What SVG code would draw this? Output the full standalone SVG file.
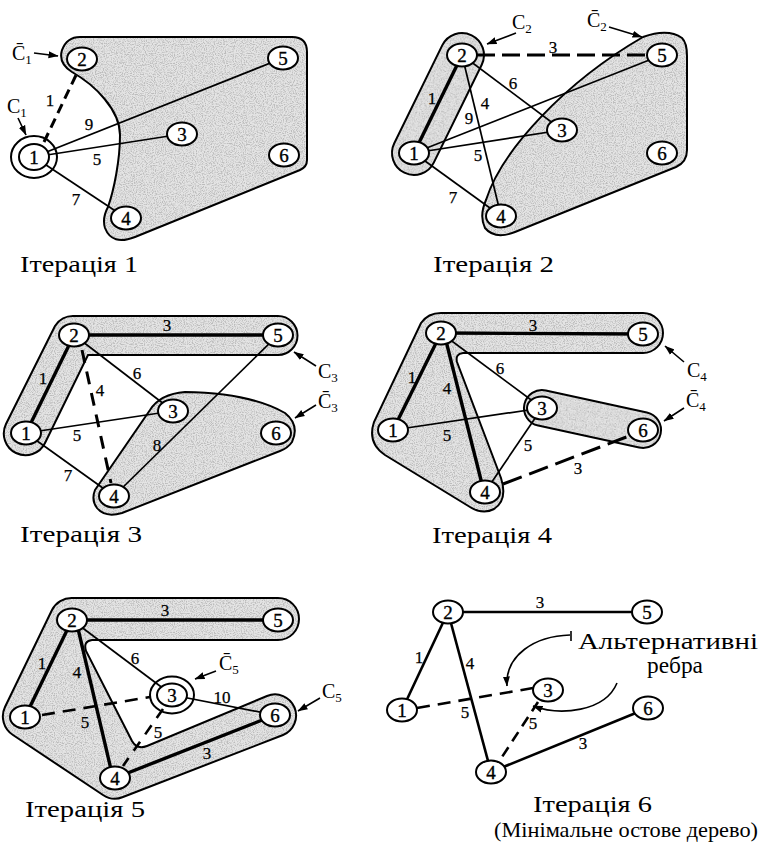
<svg xmlns="http://www.w3.org/2000/svg" width="764" height="848" viewBox="0 0 764 848">
<defs>
<style>
text{font-family:"Liberation Serif","Times New Roman",serif;fill:#000}
.nd ellipse{fill:#fff;stroke:#000;stroke-width:2}
.nd ellipse.ring{fill:none}
.nd text{font-size:19px;text-anchor:middle;stroke:#000;stroke-width:0.35}
.e line,.e path{stroke:#000;fill:none}
.e .thin{stroke-width:1.7}
.e .thick{stroke-width:3.4}
.e .thick2{stroke-width:2.6}
.e .dash{stroke-width:3}
.e .dash2{stroke-width:2.6}
.lb text{font-size:17px;text-anchor:middle;stroke:#000;stroke-width:0.25}
.shade{fill:#e4e4e4;stroke:none}
.rim{fill:none;stroke:#000;stroke-width:2}
.cl text{font-size:20px}
.cl tspan{font-size:13px}
.cl line,.cl path{stroke:#000;stroke-width:1.6;fill:none;marker-end:url(#ah)}
.ttl{font-size:24px}
.alt{font-size:23px}
</style>
<filter id="grain" x="-2%" y="-2%" width="104%" height="104%">
<feTurbulence type="fractalNoise" baseFrequency="0.9" numOctaves="2" seed="7" result="t"/>
<feColorMatrix in="t" type="matrix" values="0 0 0 0 0.5 0 0 0 0 0.5 0 0 0 0 0.5 0 0 0 3.2 -1.35" result="d"/>
<feComposite in="d" in2="SourceGraphic" operator="in" result="d2"/>
<feMerge><feMergeNode in="SourceGraphic"/><feMergeNode in="d2"/></feMerge>
</filter>
<marker id="ah" viewBox="0 0 10 8" refX="9.5" refY="4" markerWidth="10" markerHeight="8" markerUnits="userSpaceOnUse" orient="auto"><path d="M0,0.5 L10,4 L0,7.5 Z" fill="#000"/></marker>
</defs>
<rect width="764" height="848" fill="#fff"/>

<!-- Panel 1 -->
<g id="panel1">
<g id="p1-regions">
<path class="shade" filter="url(#grain)" d="M80,37 L292,37 Q307,37 307,52 L307,160 Q307,167 300,170 L135,237 Q112,246 105,228 Q102,218 108,207 C114,190 120,160 120,135 C120,110 95,85 72,72 Q58,63 62,50 Q67,37 80,37 Z"/>
<path class="rim" d="M80,37 L292,37 Q307,37 307,52 L307,160 Q307,167 300,170 L135,237 Q112,246 105,228 Q102,218 108,207 C114,190 120,160 120,135 C120,110 95,85 72,72 Q58,63 62,50 Q67,37 80,37 Z"/>
</g>
<g id="p1-edges" class="e">
<line class="dash" x1="44" y1="142" x2="78" y2="71" stroke-dasharray="10 6"/>
<line class="thin" x1="34" y1="157" x2="283" y2="58"/>
<line class="thin" x1="34" y1="157" x2="182" y2="134"/>
<line class="thin" x1="34" y1="157" x2="126" y2="218"/>
</g>
<g class="lb"><text x="50" y="106">1</text><text x="89" y="130">9</text><text x="97" y="165">5</text><text x="76" y="205">7</text></g>
<g class="cl">
<text x="12" y="60">C&#x304;<tspan dy="4">1</tspan></text><line x1="34" y1="53" x2="58" y2="56"/>
<text x="7" y="113">C<tspan dy="4">1</tspan></text><line x1="18" y1="118" x2="26" y2="135"/>
</g>
<g id="p1-n1" class="nd"><ellipse class="ring" cx="34" cy="157" rx="23" ry="21"/><ellipse cx="34" cy="157" rx="15" ry="13"/><text x="34" y="163.5">1</text></g>
<g id="p1-n2" class="nd"><ellipse cx="82" cy="59" rx="15" ry="11.5"/><text x="82" y="65.5">2</text></g>
<g id="p1-n3" class="nd"><ellipse cx="182" cy="134" rx="15" ry="11.5"/><text x="182" y="140.5">3</text></g>
<g id="p1-n4" class="nd"><ellipse cx="126" cy="218" rx="15" ry="11.5"/><text x="126" y="224.5">4</text></g>
<g id="p1-n5" class="nd"><ellipse cx="283" cy="58" rx="15" ry="11.5"/><text x="283" y="64.5">5</text></g>
<g id="p1-n6" class="nd"><ellipse cx="284" cy="155" rx="15" ry="11.5"/><text x="284" y="161.5">6</text></g>
<text class="ttl" x="20" y="272" textLength="118" lengthAdjust="spacingAndGlyphs">Ітерація 1</text>
</g>

<!-- Panel 2 -->
<g id="panel2">
<g id="p2-regions">
<rect class="shade" filter="url(#grain)" x="-76.5" y="-22" width="153" height="44" rx="22" transform="translate(438 104) rotate(-63.9)"/>
<rect class="rim" x="-76.5" y="-22" width="153" height="44" rx="22" transform="translate(438 104) rotate(-63.9)"/>
<path class="shade" filter="url(#grain)" d="M643,37 Q668,28 682,38 Q687,43 687,56 L687,150 Q687,162 676,167 L515,232 Q495,240 485,228 Q479,216 486,200 C502,150 565,82 643,37 Z"/>
<path class="rim" d="M643,37 Q668,28 682,38 Q687,43 687,56 L687,150 Q687,162 676,167 L515,232 Q495,240 485,228 Q479,216 486,200 C502,150 565,82 643,37 Z"/>
</g>
<g id="p2-edges" class="e">
<line class="thick" x1="414" y1="153" x2="462" y2="55"/>
<line class="dash" x1="477" y1="55" x2="647" y2="55" stroke-dasharray="18 7"/>
<line class="thin" x1="462" y1="55" x2="562" y2="130"/>
<line class="thin" x1="462" y1="55" x2="501" y2="216"/>
<line class="thin" x1="414" y1="153" x2="662" y2="55"/>
<line class="thin" x1="414" y1="153" x2="562" y2="130"/>
<line class="thin" x1="414" y1="153" x2="501" y2="216"/>
</g>
<g class="lb"><text x="432" y="104">1</text><text x="469" y="124">9</text><text x="485" y="109">4</text><text x="513" y="89">6</text><text x="478" y="161">5</text><text x="453" y="203">7</text><text x="553" y="53">3</text></g>
<g class="cl">
<text x="512" y="29">C<tspan dy="4">2</tspan></text><line x1="516" y1="33" x2="487" y2="44"/>
<text x="587" y="27">C&#x304;<tspan dy="4">2</tspan></text><line x1="609" y1="27" x2="642" y2="37"/>
</g>
<g id="p2-n1" class="nd"><ellipse cx="414" cy="153" rx="15" ry="11.5"/><text x="414" y="159.5">1</text></g>
<g id="p2-n2" class="nd"><ellipse cx="462" cy="55" rx="15" ry="11.5"/><text x="462" y="61.5">2</text></g>
<g id="p2-n3" class="nd"><ellipse cx="562" cy="130" rx="15" ry="11.5"/><text x="562" y="136.5">3</text></g>
<g id="p2-n4" class="nd"><ellipse cx="501" cy="216" rx="15" ry="11.5"/><text x="501" y="222.5">4</text></g>
<g id="p2-n5" class="nd"><ellipse cx="662" cy="55" rx="15" ry="11.5"/><text x="662" y="61.5">5</text></g>
<g id="p2-n6" class="nd"><ellipse cx="662" cy="153" rx="15" ry="11.5"/><text x="662" y="159.5">6</text></g>
<text class="ttl" x="433" y="272" textLength="121" lengthAdjust="spacingAndGlyphs">Ітерація 2</text>
</g>

<!-- Panel 3 -->
<g id="panel3">
<g id="p3-regions">
<path class="shade" filter="url(#grain)" d="M74,316 L278,316 A19.5,19.5 0 0 1 278,355 L88,355 L45,443 A21.5,21.5 0 0 1 6,424 L55,326 A21,21 0 0 1 74,316 Z"/>
<path class="rim" d="M74,316 L278,316 A19.5,19.5 0 0 1 278,355 L88,355 L45,443 A21.5,21.5 0 0 1 6,424 L55,326 A21,21 0 0 1 74,316 Z"/>
<path class="shade" filter="url(#grain)" d="M95,490 L150,410 Q160,394 185,392 Q250,393 285,413 Q300,425 292,442 Q288,448 280,451 L122,513 Q105,518 97,508 Q91,500 95,490 Z"/>
<path class="rim" d="M95,490 L150,410 Q160,394 185,392 Q250,393 285,413 Q300,425 292,442 Q288,448 280,451 L122,513 Q105,518 97,508 Q91,500 95,490 Z"/>
</g>
<g id="p3-edges" class="e">
<line class="thick" x1="74" y1="335" x2="278" y2="335"/>
<line class="thick" x1="26" y1="433" x2="74" y2="335"/>
<line class="dash" x1="82" y1="350" x2="111" y2="483" stroke-dasharray="13 9"/>
<line class="thin" x1="74" y1="335" x2="173" y2="411"/>
<line class="thin" x1="26" y1="433" x2="173" y2="411"/>
<line class="thin" x1="26" y1="433" x2="114" y2="496"/>
<line class="thin" x1="278" y1="335" x2="114" y2="496"/>
</g>
<g class="lb"><text x="167" y="331">3</text><text x="43" y="384">1</text><text x="100" y="396">4</text><text x="137" y="379">6</text><text x="77" y="441">5</text><text x="68" y="481">7</text><text x="157" y="451">8</text></g>
<g class="cl">
<text x="318" y="378">C<tspan dy="4">3</tspan></text><line x1="316" y1="366" x2="294" y2="352"/>
<text x="318" y="408">C&#x304;<tspan dy="4">3</tspan></text><line x1="316" y1="405" x2="295" y2="418"/>
</g>
<g id="p3-n1" class="nd"><ellipse cx="26" cy="433" rx="15" ry="11.5"/><text x="26" y="439.5">1</text></g>
<g id="p3-n2" class="nd"><ellipse cx="74" cy="335" rx="15" ry="11.5"/><text x="74" y="341.5">2</text></g>
<g id="p3-n3" class="nd"><ellipse cx="173" cy="411" rx="15" ry="11.5"/><text x="173" y="417.5">3</text></g>
<g id="p3-n4" class="nd"><ellipse cx="114" cy="496" rx="15" ry="11.5"/><text x="114" y="502.5">4</text></g>
<g id="p3-n5" class="nd"><ellipse cx="278" cy="335" rx="15" ry="11.5"/><text x="278" y="341.5">5</text></g>
<g id="p3-n6" class="nd"><ellipse cx="276" cy="433" rx="15" ry="11.5"/><text x="276" y="439.5">6</text></g>
<text class="ttl" x="20" y="542" textLength="122" lengthAdjust="spacingAndGlyphs">Ітерація 3</text>
</g>

<!-- Panel 4 -->
<g id="panel4">
<g id="p4-regions">
<path class="shade" filter="url(#grain)" d="M441,313 L643,313 A20,20 0 0 1 643,353 L463,353 Q455,354 457,362 L501,478 Q508,500 494,509 Q483,515 470,507 L385,455 Q367,443 374,422 L421,323 Q428,313 441,313 Z"/>
<path class="rim" d="M441,313 L643,313 A20,20 0 0 1 643,353 L463,353 Q455,354 457,362 L501,478 Q508,500 494,509 Q483,515 470,507 L385,455 Q367,443 374,422 L421,323 Q428,313 441,313 Z"/>
<rect class="shade" filter="url(#grain)" x="-69.7" y="-18" width="139.4" height="36" rx="18" transform="translate(592.5 419) rotate(12.3)"/>
<rect class="rim" x="-69.7" y="-18" width="139.4" height="36" rx="18" transform="translate(592.5 419) rotate(12.3)"/>
</g>
<g id="p4-edges" class="e">
<line class="thick" x1="441" y1="333" x2="643" y2="334"/>
<line class="thick" x1="393" y1="430" x2="441" y2="333"/>
<line class="thick" x1="444" y1="333" x2="484" y2="492"/>
<line class="thin" x1="441" y1="333" x2="542" y2="408"/>
<line class="thin" x1="393" y1="430" x2="542" y2="408"/>
<line class="thin" x1="542" y1="408" x2="485" y2="492"/>
<line class="dash" x1="503" y1="484" x2="629" y2="436" stroke-dasharray="20 8"/>
</g>
<g class="lb"><text x="412" y="383">1</text><text x="447" y="394">4</text><text x="500" y="374">6</text><text x="447" y="441">5</text><text x="528" y="451">5</text><text x="533" y="331">3</text><text x="578" y="474">3</text></g>
<g class="cl">
<text x="687" y="377">C<tspan dy="4">4</tspan></text><line x1="684" y1="362" x2="665" y2="346"/>
<text x="686" y="407">C&#x304;<tspan dy="4">4</tspan></text><line x1="684" y1="408" x2="664" y2="421"/>
</g>
<g id="p4-n1" class="nd"><ellipse cx="393" cy="430" rx="15" ry="11.5"/><text x="393" y="436.5">1</text></g>
<g id="p4-n2" class="nd"><ellipse cx="441" cy="333" rx="15" ry="11.5"/><text x="441" y="339.5">2</text></g>
<g id="p4-n3" class="nd"><ellipse cx="542" cy="408" rx="15" ry="11.5"/><text x="542" y="414.5">3</text></g>
<g id="p4-n4" class="nd"><ellipse cx="485" cy="492" rx="15" ry="11.5"/><text x="485" y="498.5">4</text></g>
<g id="p4-n5" class="nd"><ellipse cx="643" cy="334" rx="15" ry="11.5"/><text x="643" y="340.5">5</text></g>
<g id="p4-n6" class="nd"><ellipse cx="643" cy="430" rx="15" ry="11.5"/><text x="643" y="436.5">6</text></g>
<text class="ttl" x="432" y="543" textLength="120" lengthAdjust="spacingAndGlyphs">Ітерація 4</text>
</g>

<!-- Panel 5 -->
<g id="panel5">
<g id="p5-regions">
<path class="shade" filter="url(#grain)" d="M72,598 L278,598 A21,21 0 0 1 278,640 L92,640 Q83,641 86,651 L132,741 Q137,750 147,746 L267,696 A21,21 0 0 1 283,735 L123,797 A21,21 0 0 1 103,795 L13,735 A22,22 0 0 1 5,707 L52,610 A22,22 0 0 1 72,598 Z"/>
<path class="rim" d="M72,598 L278,598 A21,21 0 0 1 278,640 L92,640 Q83,641 86,651 L132,741 Q137,750 147,746 L267,696 A21,21 0 0 1 283,735 L123,797 A21,21 0 0 1 103,795 L13,735 A22,22 0 0 1 5,707 L52,610 A22,22 0 0 1 72,598 Z"/>
</g>
<g id="p5-edges" class="e">
<line class="thick" x1="72" y1="620" x2="278" y2="620"/>
<line class="thick" x1="25" y1="717" x2="72" y2="620"/>
<line class="thick" x1="76" y1="620" x2="113" y2="778"/>
<line class="thin" x1="72" y1="620" x2="172" y2="695"/>
<line class="dash2" x1="42" y1="715" x2="150" y2="697" stroke-dasharray="13 8"/>
<line class="dash2" x1="163" y1="709" x2="123" y2="766" stroke-dasharray="11 9"/>
<line class="thin" x1="172" y1="695" x2="275" y2="715"/>
<line class="thick" x1="115" y1="778" x2="275" y2="715"/>
</g>
<g class="lb"><text x="165" y="616">3</text><text x="42" y="669">1</text><text x="77" y="678">4</text><text x="135" y="664">6</text><text x="85" y="728">5</text><text x="158" y="738">5</text><text x="222" y="703">10</text><text x="207" y="759">3</text></g>
<g class="cl">
<text x="219" y="670">C&#x304;<tspan dy="4">5</tspan></text><line x1="216" y1="671" x2="195" y2="679"/>
<text x="322" y="698">C<tspan dy="4">5</tspan></text><line x1="320" y1="698" x2="298" y2="711"/>
</g>
<g id="p5-n1" class="nd"><ellipse cx="25" cy="717" rx="15" ry="11.5"/><text x="25" y="723.5">1</text></g>
<g id="p5-n2" class="nd"><ellipse cx="72" cy="620" rx="15" ry="11.5"/><text x="72" y="626.5">2</text></g>
<g id="p5-n3" class="nd"><ellipse class="ring" cx="172" cy="695" rx="22" ry="18.5"/><ellipse cx="172" cy="695" rx="15" ry="11.5"/><text x="172" y="701.5">3</text></g>
<g id="p5-n4" class="nd"><ellipse cx="115" cy="778" rx="15" ry="11.5"/><text x="115" y="784.5">4</text></g>
<g id="p5-n5" class="nd"><ellipse cx="278" cy="620" rx="15" ry="11.5"/><text x="278" y="626.5">5</text></g>
<g id="p5-n6" class="nd"><ellipse cx="275" cy="715" rx="15" ry="11.5"/><text x="275" y="721.5">6</text></g>
<text class="ttl" x="25" y="817" textLength="120" lengthAdjust="spacingAndGlyphs">Ітерація 5</text>
</g>

<!-- Panel 6 -->
<g id="panel6">
<g id="p6-edges" class="e">
<line class="thick2" x1="448" y1="612" x2="647" y2="612"/>
<line class="thick2" x1="402" y1="710" x2="448" y2="612"/>
<line class="thick2" x1="448" y1="612" x2="491" y2="772"/>
<line class="thick2" x1="491" y1="772" x2="648" y2="708"/>
<line class="dash2" x1="417" y1="708" x2="533" y2="688" stroke-dasharray="13 8"/>
<line class="dash2" x1="538" y1="702" x2="500" y2="760" stroke-dasharray="11 7"/>
</g>
<g class="lb"><text x="540" y="608">3</text><text x="419" y="663">1</text><text x="470" y="669">4</text><text x="465" y="718">5</text><text x="533" y="729">5</text><text x="583" y="749">3</text></g>
<g class="cl">
<path d="M570,635 C535,636 505,655 507,686"/>
<path d="M617,683 C605,712 560,716 533,706"/>
<line x1="571" y1="631" x2="571" y2="641" style="marker-end:none"/>
</g>
<g id="p6-n1" class="nd"><ellipse cx="402" cy="710" rx="15" ry="11.5"/><text x="402" y="716.5">1</text></g>
<g id="p6-n2" class="nd"><ellipse cx="448" cy="612" rx="15" ry="11.5"/><text x="448" y="618.5">2</text></g>
<g id="p6-n3" class="nd"><ellipse cx="548" cy="690" rx="15" ry="11.5"/><text x="548" y="696.5">3</text></g>
<g id="p6-n4" class="nd"><ellipse cx="491" cy="772" rx="15" ry="11.5"/><text x="491" y="778.5">4</text></g>
<g id="p6-n5" class="nd"><ellipse cx="647" cy="612" rx="15" ry="11.5"/><text x="647" y="618.5">5</text></g>
<g id="p6-n6" class="nd"><ellipse cx="648" cy="708" rx="15" ry="11.5"/><text x="648" y="714.5">6</text></g>
<text class="alt" x="578" y="649" textLength="180" lengthAdjust="spacingAndGlyphs">Альтернативні</text>
<text class="alt" x="647" y="673" textLength="56" lengthAdjust="spacingAndGlyphs">ребра</text>
<text class="ttl" x="533" y="812" textLength="119" lengthAdjust="spacingAndGlyphs">Ітерація 6</text>
<text x="494" y="837" font-size="22" textLength="264" lengthAdjust="spacingAndGlyphs">(Мінімальне остове дерево)</text>
</g>
</svg>
